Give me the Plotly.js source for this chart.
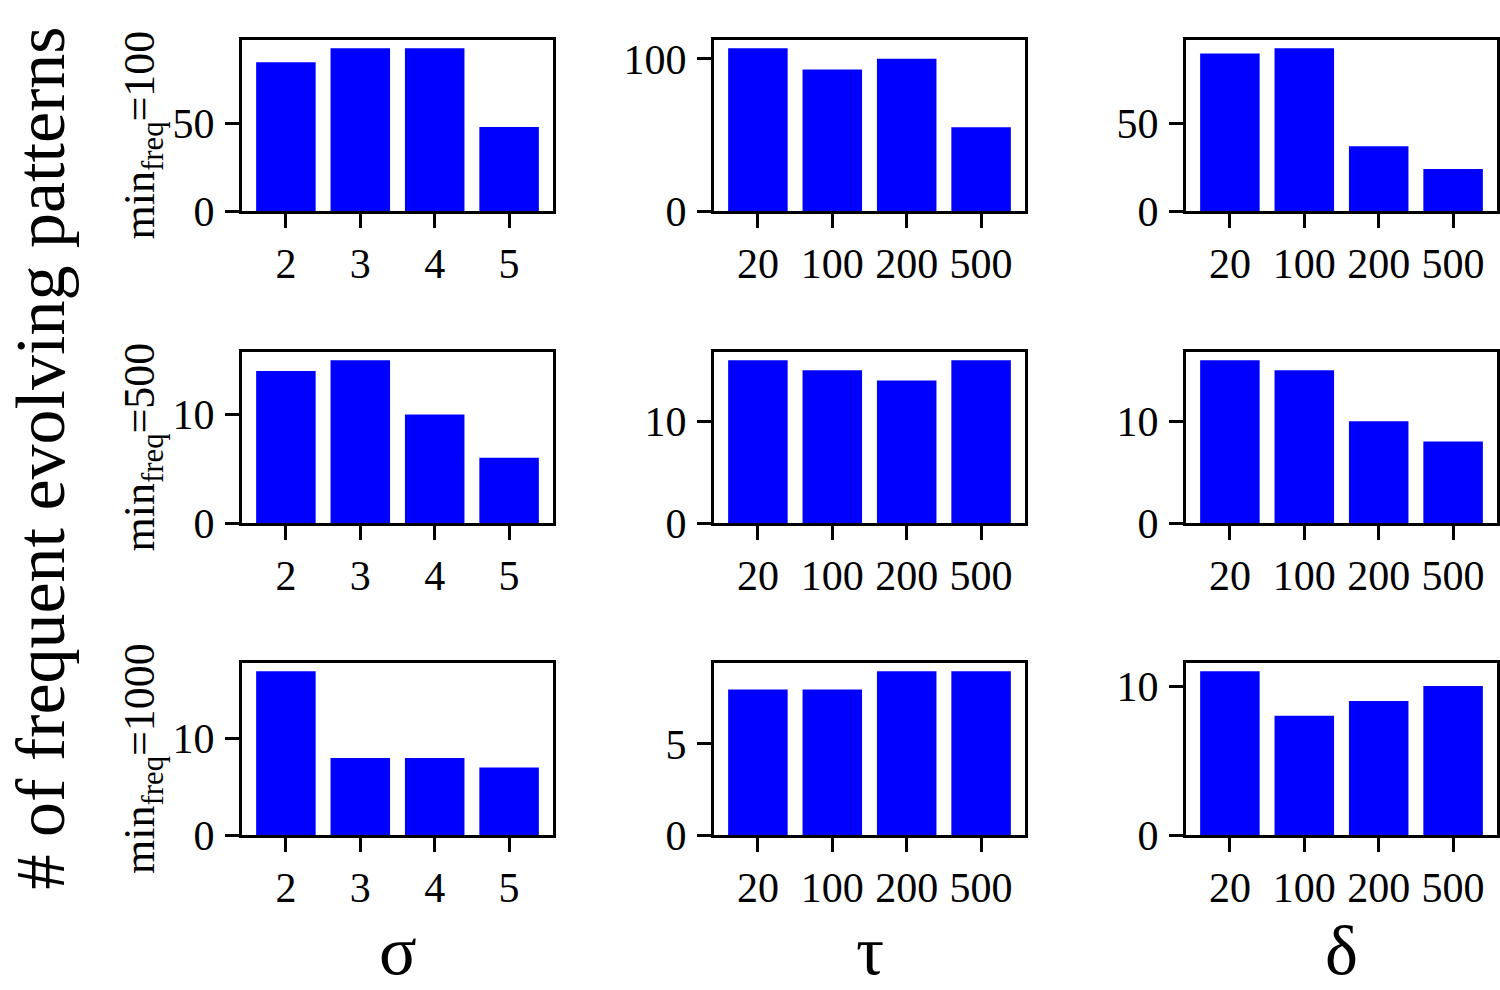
<!DOCTYPE html>
<html>
<head>
<meta charset="utf-8">
<script src="https://cdn.plot.ly/plotly-3.0.1.min.js"></script>
<style>
  html, body { margin: 0; padding: 0; background: #fff; }
  #chart { width: 1500px; height: 990px; }
</style>
</head>
<body>
<div id="chart"></div>
<script>
// categories
var sigmaCats = ['2', '3', '4', '5'];
var tauCats = ['20', '100', '200', '500'];
var deltaCats = ['20', '100', '200', '500'];

// counts per min_freq setting
var sigma100 = [85, 93, 93, 48];
var sigma500 = [14, 15, 10, 6];
var sigma1000 = [17, 8, 8, 7];

var tau100 = [107, 93, 100, 55];
var tau500 = [16, 15, 14, 16];
var tau1000 = [8, 8, 9, 9];

var delta100 = [90, 93, 37, 24];
var delta500 = [16, 15, 10, 8];
var delta1000 = [11, 8, 9, 10];

var rowLabels = ['100', '500', '1000'];
var colLabels = ['σ', 'τ', 'δ'];

var W = 1500, H = 990;
var colX = [[242, 553], [714, 1025], [1186, 1497]];
var rowY = [[40, 211], [352, 523], [663, 835]];
var dticks = [[50, 100, 50], [10, 10, 10], [10, 5, 10]];

var grid = [
  [[sigmaCats, sigma100], [tauCats, tau100], [deltaCats, delta100]],
  [[sigmaCats, sigma500], [tauCats, tau500], [deltaCats, delta500]],
  [[sigmaCats, sigma1000], [tauCats, tau1000], [deltaCats, delta1000]]
];

var font = 'Liberation Serif, Times New Roman, serif';
var data = [];
var layout = {
  width: W, height: H,
  margin: {l: 0, r: 0, t: 0, b: 0},
  paper_bgcolor: '#fff',
  plot_bgcolor: '#fff',
  showlegend: false,
  bargap: 0.2,
  font: {family: font, size: 42, color: '#000'},
  annotations: []
};

var n = 0;
for (var r = 0; r < 3; r++) {
  for (var c = 0; c < 3; c++) {
    n++;
    var sfx = n === 1 ? '' : String(n);
    var cats = grid[r][c][0], vals = grid[r][c][1];
    data.push({
      type: 'bar',
      x: cats,
      y: vals,
      xaxis: 'x' + sfx,
      yaxis: 'y' + sfx,
      marker: {color: '#0000ff', line: {width: 0}},
      hoverinfo: 'x+y'
    });
    var axStyle = {
      showline: true, mirror: true, linecolor: '#000', linewidth: 3,
      ticks: 'outside', ticklen: 14, tickwidth: 3, tickcolor: '#000',
      showgrid: false, zeroline: false,
      tickfont: {family: font, size: 42, color: '#000'}
    };
    layout['xaxis' + sfx] = Object.assign({}, axStyle, {
      type: 'category',
      range: [-0.59, 3.59],
      domain: [colX[c][0] / W, colX[c][1] / W],
      anchor: 'y' + sfx,
      ticklabelstandoff: 0
    });
    layout['yaxis' + sfx] = Object.assign({}, axStyle, {
      range: [0, Math.max.apply(null, vals) * 1.05],
      dtick: dticks[r][c],
      domain: [1 - rowY[r][1] / H, 1 - rowY[r][0] / H],
      anchor: 'x' + sfx,
      ticklabelstandoff: 2
    });
  }
  layout.annotations.push({
    text: 'min<sub>freq</sub>=' + rowLabels[r],
    textangle: -90,
    xref: 'paper', yref: 'paper',
    x: 142 / W, y: 1 - ((rowY[r][0] + rowY[r][1]) / 2 + 10) / H,
    xanchor: 'center', yanchor: 'middle',
    showarrow: false,
    font: {family: font, size: 44, color: '#000'}
  });
}

// parameter names under each column
for (var c2 = 0; c2 < 3; c2++) {
  layout.annotations.push({
    text: colLabels[c2],
    xref: 'paper', yref: 'paper',
    x: (colX[c2][0] + colX[c2][1]) / 2 / W, y: 0,
    xanchor: 'center', yanchor: 'bottom',
    borderpad: 0,
    showarrow: false,
    font: {family: font, size: 70, color: '#000'}
  });
}

layout.annotations.push({
  text: '# of frequent evolving patterns',
  textangle: -90,
  xref: 'paper', yref: 'paper',
  x: 0, y: 1 - 458 / H,
  xanchor: 'left', yanchor: 'middle',
  borderpad: 0,
  showarrow: false,
  font: {family: font, size: 70, color: '#000'}
});

Plotly.newPlot('chart', data, layout, {displayModeBar: false, staticPlot: true});
</script>
</body>
</html>
